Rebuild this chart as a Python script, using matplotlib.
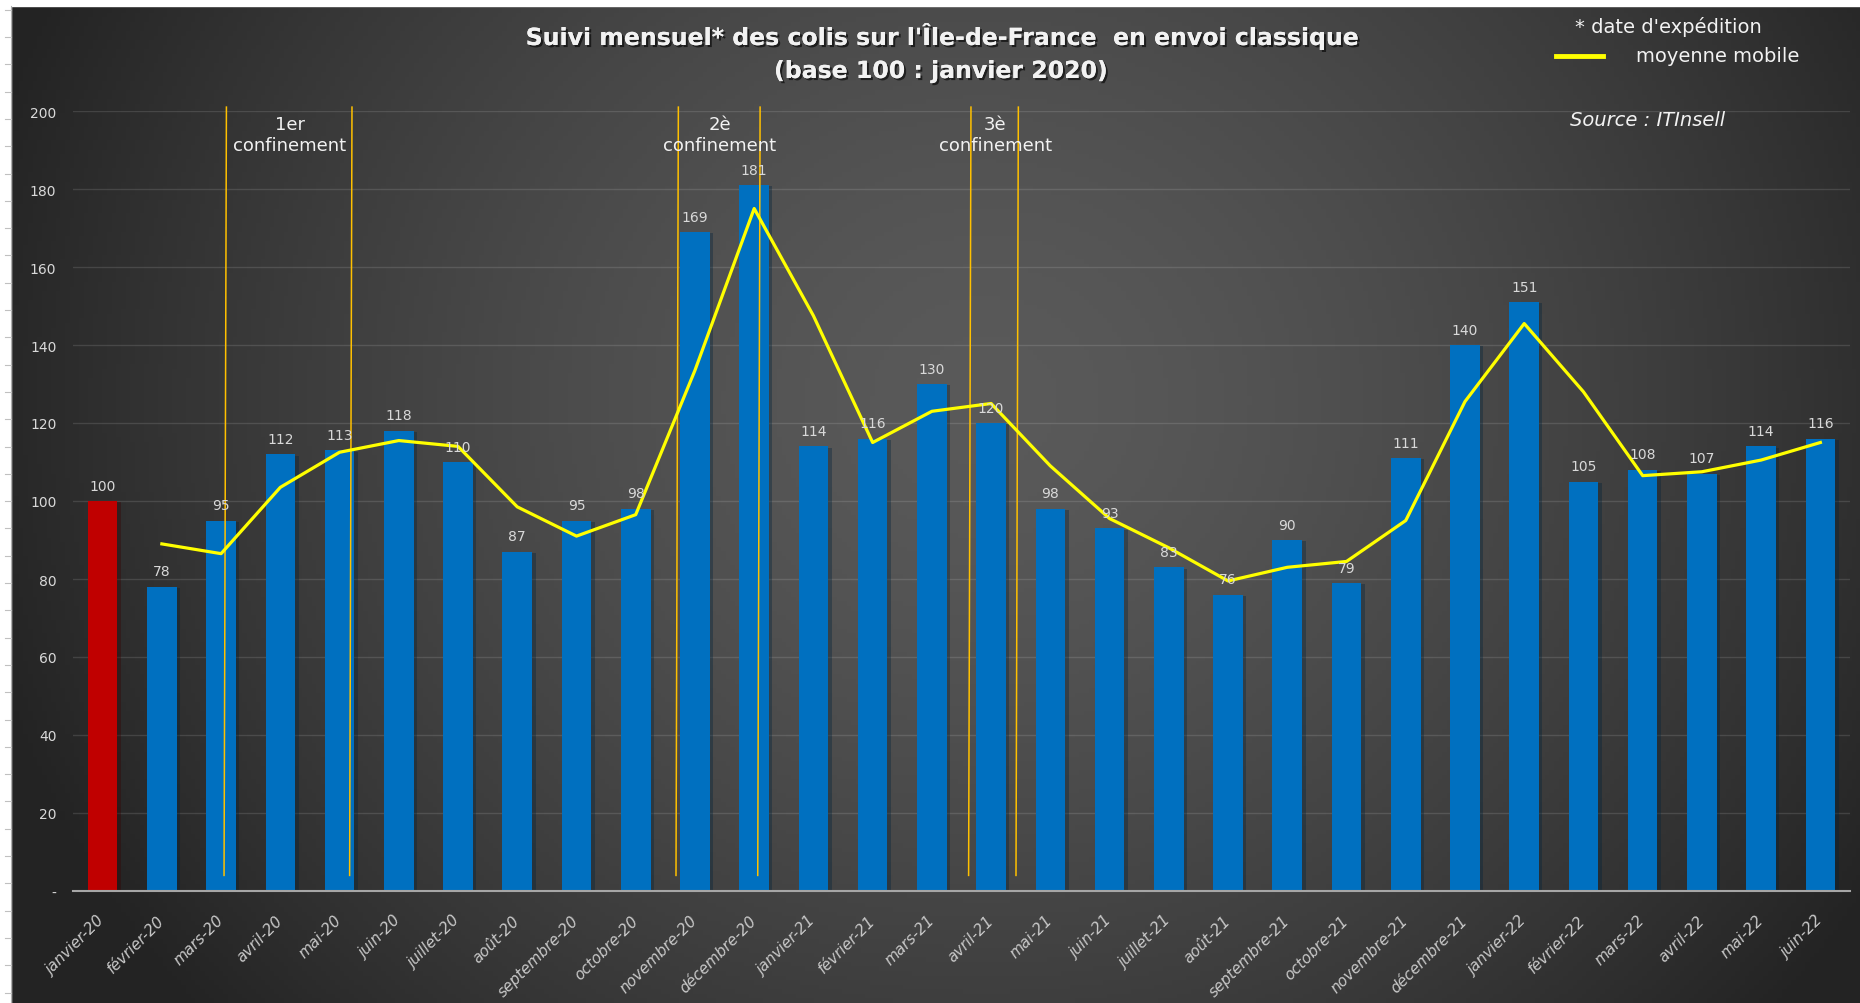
import matplotlib
matplotlib.use('Agg')
import matplotlib.pyplot as plt
import matplotlib.patheffects as pe
from matplotlib.lines import Line2D
from matplotlib.patches import Rectangle
import numpy as np

# données
months = ['janvier-20', 'février-20', 'mars-20', 'avril-20', 'mai-20', 'juin-20',
          'juillet-20', 'août-20', 'septembre-20', 'octobre-20', 'novembre-20', 'décembre-20',
          'janvier-21', 'février-21', 'mars-21', 'avril-21', 'mai-21', 'juin-21',
          'juillet-21', 'août-21', 'septembre-21', 'octobre-21', 'novembre-21', 'décembre-21',
          'janvier-22', 'février-22', 'mars-22', 'avril-22', 'mai-22', 'juin-22']
values = [100, 78, 95, 112, 113, 118, 110, 87, 95, 98, 169, 181,
          114, 116, 130, 120, 98, 93, 83, 76, 90, 79, 111, 140,
          151, 105, 108, 107, 114, 116]
moving_avg = [np.nan, 89, 86.5, 103.5, 112.5, 115.5, 114, 98.5, 91, 96.5, 133.5, 175,
              147.5, 115, 123, 125, 109, 95.5, 88, 79.5, 83, 84.5, 95, 125.5,
              145.5, 128, 106.5, 107.5, 110.5, 115]
y_ticks = [0, 20, 40, 60, 80, 100, 120, 140, 160, 180, 200]
y_tick_labels = ['-', '20', '40', '60', '80', '100', '120', '140', '160', '180', '200']

# périodes de confinement (début / fin sur l'axe des mois)
confinements = [('1er\nconfinement', 2.05, 4.17), ('2è\nconfinement', 9.68, 11.06),
                ('3è\nconfinement', 14.62, 15.42)]

W, H = 1860, 1004
fig = plt.figure(figsize=(W / 100, H / 100), dpi=100)

# fond dégradé radial
bg = fig.add_axes([0, 0, 1, 1], zorder=-2)
gx, gy = np.meshgrid(np.linspace(0, 1, 400), np.linspace(0, 1, 220))
d = np.sqrt(((gx - 0.53) / 0.56) ** 2 + ((gy - 0.40) / 0.95) ** 2)
t = np.clip(d, 0, 1) ** 1.5
grey = (90 - 55 * t) / 255
bg.imshow(np.dstack([grey, grey, grey]), aspect='auto', extent=[0, 1, 0, 1], origin='upper')
bg.set_axis_off()

ax = fig.add_axes([73 / W, 1 - 892 / H, (1850 - 73) / W, (892 - 112) / H])
ax.set_facecolor('none')

x = np.arange(len(months))
colors = ['#C00000'] + ['#0070C0'] * (len(months) - 1)
ax.bar(x, values, width=0.5, color=colors, zorder=2,
       path_effects=[pe.SimplePatchShadow(offset=(2.5, -1), alpha=0.35), pe.Normal()])

for xi, v in zip(x, values):
    ax.annotate(str(v), (xi, v), xytext=(0, 6), textcoords='offset points',
                ha='center', va='bottom', fontsize=10, color='#d9d9d9', zorder=6)

for label, x0, x1 in confinements:
    for xx in (x0, x1):
        ax.plot([xx + 0.04, xx], [201, 4], color='#FFC000', lw=1.1, zorder=3, clip_on=False)
    ax.text((x0 + x1) / 2 + 0.05, 194, label, ha='center', va='center', fontsize=13,
            color='#f2f2f2', linespacing=1.2, zorder=6)

ax.plot(x, moving_avg, color='#FFFF00', lw=2.3, zorder=4)

ax.set_xlim(-0.5, len(months) - 0.5)
ax.set_ylim(0, 200)
ax.set_yticks(y_ticks)
ax.set_yticklabels(y_tick_labels)
ax.set_xticks(x)
ax.set_xticklabels(months, rotation=45, ha='right', va='center', rotation_mode='anchor',
                   fontsize=11, style='italic', color='#c8c8c8')
ax.tick_params(axis='y', length=0, pad=12, labelsize=10, labelcolor='#d9d9d9')
ax.tick_params(axis='x', length=0, pad=19)
ax.yaxis.grid(True, color='white', alpha=0.12, lw=1)
ax.set_axisbelow(True)
for s in ['top', 'right', 'left']:
    ax.spines[s].set_visible(False)
ax.spines['bottom'].set_color('#a6a6a6')
ax.spines['bottom'].set_linewidth(1.5)
ax.spines['bottom'].set_zorder(5)

shadow = [pe.withSimplePatchShadow(offset=(1.5, -1.5), shadow_rgbFace='black', alpha=0.6), pe.Normal()]
fig.text(943 / W, 1 - 37 / H, "Suivi mensuel* des colis sur l'Île-de-France  en envoi classique",
         ha='center', va='center', fontsize=17, weight='bold', color='#f2f2f2', path_effects=shadow)
fig.text(941 / W, 1 - 72 / H, "(base 100 : janvier 2020)",
         ha='center', va='center', fontsize=17, weight='bold', color='#f2f2f2', path_effects=shadow)

fig.text(1668 / W, 1 - 27 / H, "* date d'expédition", ha='center', va='center',
         fontsize=14, color='#f2f2f2')
fig.add_artist(Line2D([1556 / W, 1603 / W], [1 - 57 / H, 1 - 57 / H], color='#FFFF00', lw=3.5))
fig.text(1718 / W, 1 - 57 / H, "moyenne mobile", ha='center', va='center',
         fontsize=14, color='#f2f2f2')
fig.text(1648 / W, 1 - 120 / H, "Source : ITInsell", ha='center', va='center',
         fontsize=14, style='italic', color='#f2f2f2')

# bord blanc du tableur (gauche et haut)
fig.add_artist(Rectangle((0, 0), 11 / W, 1, transform=fig.transFigure, color='white', zorder=1))
fig.add_artist(Rectangle((0, 1 - 7 / H), 1, 7 / H, transform=fig.transFigure, color='white', zorder=1))
fig.add_artist(Line2D([11 / W, 11 / W], [0, 1 - 7 / H], color='#b0b0b0', lw=0.8, zorder=2))
for yy in np.arange(10.7, H, 27.3):
    fig.add_artist(Line2D([5 / W, 11 / W], [1 - yy / H, 1 - yy / H], color='#c0c0c0', lw=0.8, zorder=2))

fig.savefig('out.png', dpi=100)
